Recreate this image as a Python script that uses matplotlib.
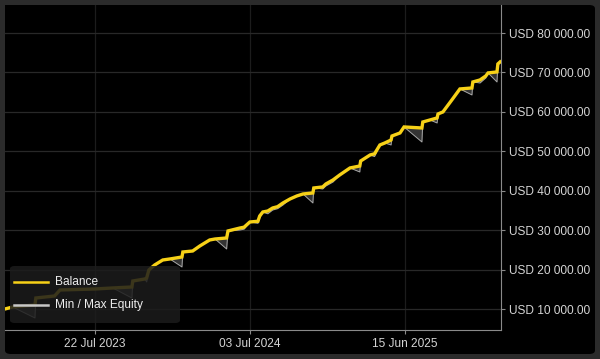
import numpy as np
import pandas as pd
import matplotlib
matplotlib.use("Agg")
import matplotlib.pyplot as plt
import matplotlib.dates as mdates
from matplotlib.patches import FancyBboxPatch
from matplotlib.lines import Line2D
from matplotlib.ticker import FuncFormatter

plt.rcParams['font.family'] = ['Liberation Sans', 'DejaVu Sans']

# account history
dates = ["2023-01-02", "2023-01-19", "2023-03-10", "2023-03-12", "2023-04-23", "2023-05-05",
         "2023-07-22", "2023-08-31", "2023-10-13", "2023-10-15", "2023-11-11", "2023-11-15",
         "2023-11-20", "2023-12-03", "2023-12-21", "2024-01-06", "2024-02-02", "2024-02-04",
         "2024-02-26", "2024-03-13", "2024-04-04", "2024-04-16", "2024-05-12", "2024-05-15",
         "2024-06-11", "2024-06-20", "2024-07-03", "2024-07-21", "2024-07-25", "2024-08-01",
         "2024-08-12", "2024-08-23", "2024-09-03", "2024-09-15",
         "2024-10-01", "2024-10-16", "2024-10-30", "2024-11-21", "2024-11-23", "2024-12-13",
         "2024-12-20", "2025-01-05", "2025-01-20", "2025-02-12", "2025-03-06", "2025-03-08",
         "2025-03-29", "2025-04-08", "2025-04-20", "2025-05-01", "2025-05-15", "2025-05-17",
         "2025-06-04", "2025-06-13",
         "2025-07-23", "2025-07-25", "2025-08-10", "2025-08-26", "2025-08-28", "2025-09-08",
         "2025-09-28", "2025-10-16", "2025-11-12", "2025-11-14", "2025-11-30", "2025-12-13",
         "2025-12-18", "2026-01-07", "2026-01-09", "2026-01-14"]
balance = [10080, 10580, 11090, 12860, 13370, 14890,
           15140, 15400, 15650, 17170, 17680, 17930,
           19960, 21230, 22490, 22750, 23250, 24520,
           24770, 26040, 27560, 27810, 28070, 29850,
           30600, 30800, 32120, 32300, 33640, 34660,
           34900, 35670, 36000, 36940,
           37960, 38710, 39220, 39470, 40740, 41000,
           41750, 42770, 44030, 45810, 46310, 47580,
           49100, 49400, 51640, 52140, 52900, 53910,
           54680, 56200,
           55940, 57460, 57970, 58480, 59490, 60000,
           63040, 65830, 66080, 67600, 68110, 69130,
           69890, 70140, 72170, 72680]
equity_min = [10080, 10580, 7800, 12860, 13370, 14890,
              15140, 15400, 12860, 17170, 17680, 16920,
              19960, 21230, 22490, 22750, 20720, 24520,
              24770, 26040, 27560, 27810, 25280, 29850,
              30090, 30300, 32120, 31800, 33130, 34660,
              34200, 35160, 35500, 36430,
              37960, 38710, 39220, 36940, 40740, 40500,
              41240, 42260, 44030, 45810, 44790, 47580,
              49100, 48700, 51640, 52140, 51640, 53910,
              54680, 56200,
              52390, 57460, 57970, 57210, 59490, 60000,
              63040, 65830, 64310, 67600, 67350, 68620,
              69890, 67600, 72170, 72680]

x_ticks = ["2023-07-22", "2024-07-03", "2025-06-15"]
y_ticks = [10000, 20000, 30000, 40000, 50000, 60000, 70000, 80000]
legend_labels = ["Balance", "Min / Max Equity"]

d = pd.to_datetime(dates)
W, H = 600, 359

fig = plt.figure(figsize=(6, 3.59), dpi=100)
fig.patch.set_facecolor('#2b2b2b')
panel = FancyBboxPatch((5 / W, 5 / H), 590 / W, 349 / H,
                       boxstyle="round,pad=0,rounding_size=0.01",
                       transform=fig.transFigure, facecolor='black',
                       edgecolor='none', zorder=0)
fig.patches.append(panel)

ax = fig.add_axes([5 / W, 29 / H, 496 / W, 325 / H])
ax.set_zorder(2)
ax.set_facecolor('black')

ax.fill_between(d, equity_min, balance, color='#3a3a3a', alpha=0.9, lw=0, zorder=2)
ax.plot(d, equity_min, color='#a8a8a8', lw=0.7, zorder=3)
ax.plot(d, balance, color='#f7d117', lw=2.4, zorder=4, solid_joinstyle='miter')

ax.set_xlim(pd.Timestamp("2023-01-02"), pd.Timestamp("2026-01-16"))
ax.set_ylim(4750, 87100)

ax.set_xticks(pd.to_datetime(x_ticks))
ax.xaxis.set_major_formatter(mdates.DateFormatter('%d %b %Y'))
ax.set_yticks(y_ticks)
ax.yaxis.set_major_formatter(FuncFormatter(lambda v, p: 'USD {:,.2f}'.format(v).replace(',', ' ')))
ax.yaxis.tick_right()

ax.grid(axis='y', color='#282828', lw=0.9)
ax.grid(axis='x', color='#1c1c1c', lw=0.9)
ax.set_axisbelow(True)

for s in ['top', 'left']:
    ax.spines[s].set_visible(False)
for s in ['right', 'bottom']:
    ax.spines[s].set_color('#8a8a8a')
    ax.spines[s].set_linewidth(0.8)
ax.tick_params(axis='both', colors='#8a8a8a', labelcolor='#d4d4d4', labelsize=8.6,
               length=3, width=0.8, pad=3)

# legend box drawn by hand (wide right padding like the original)
box = FancyBboxPatch((10 / W, 36 / H), 170 / W, 57 / H,
                     boxstyle="round,pad=0,rounding_size=0.008",
                     transform=fig.transFigure, facecolor='#1c1c1c', alpha=0.86,
                     edgecolor='none', zorder=5)
fig.patches.append(box)
legend_colors = ['#f7d117', '#c8c8c8']
for i, (lab, col) in enumerate(zip(legend_labels, legend_colors)):
    yy = (H - (282 + 23 * i)) / H
    fig.lines.append(Line2D([14 / W, 48 / W], [yy, yy], transform=fig.transFigure,
                            color=col, lw=1.8, zorder=6))
    fig.text(55 / W, yy, lab, color='#eeeeee', fontsize=8.6, va='center', ha='left',
             zorder=6)

fig.savefig('out.png', dpi=100, facecolor=fig.get_facecolor())
